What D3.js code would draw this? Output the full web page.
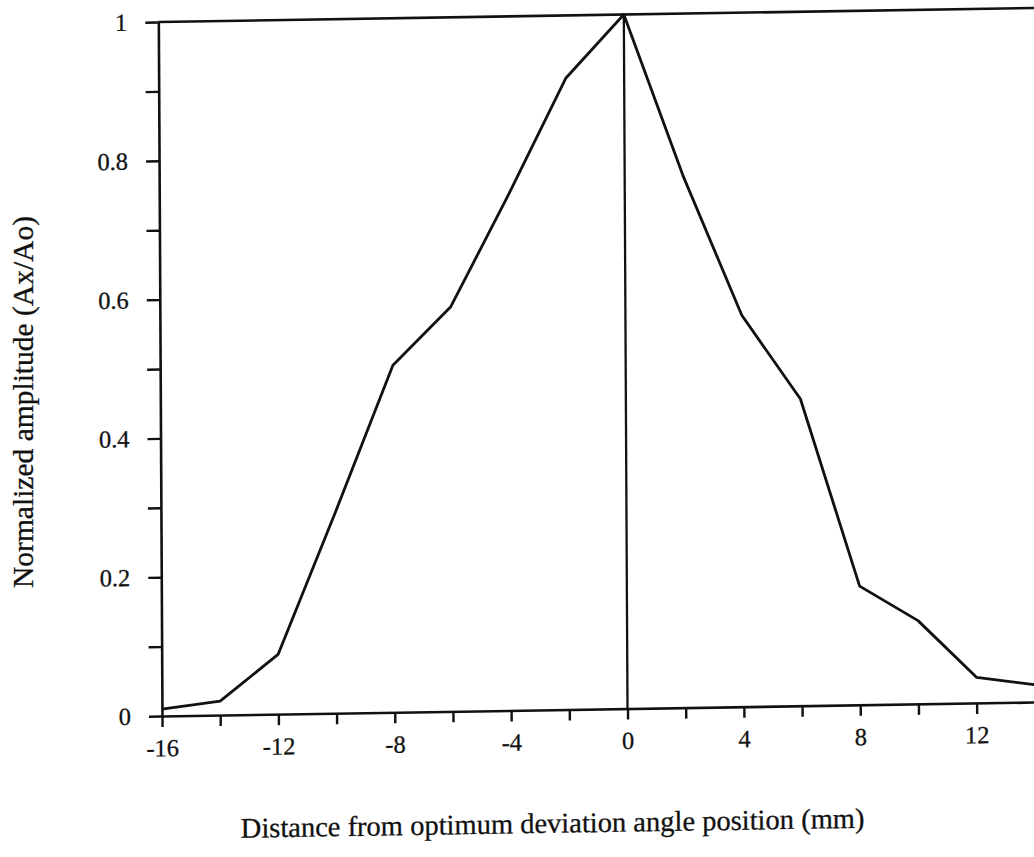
<!DOCTYPE html>
<html>
<head>
<meta charset="utf-8">
<script src="https://cdn.jsdelivr.net/npm/d3@7"></script>
<style>
  body { margin: 0; background: #fff; }
  svg text { font-family: 'Liberation Serif', 'Times New Roman', serif; fill: #111; stroke: #111; stroke-width: 0.3px; }
  .tick text { font-size: 24.5px; }
</style>
</head>
<body>
<div class="canvas"></div>
<script>
// data
const distances = [-16, -14, -12, -10, -8, -6, -4, -2, 0, 2, 4, 6, 8, 10, 12, 14];
const amplitudes = [0.01, 0.02, 0.086, 0.29, 0.50, 0.583, 0.743, 0.91, 1.0, 0.767, 0.564, 0.442, 0.171, 0.12, 0.037, 0.025];

const xTicks = d3.range(-16, 17, 2);
const yTicks = d3.range(0, 11).map(i => i / 10);
const xLabelled = [-16, -12, -8, -4, 0, 4, 8, 12];
const yLabelled = [0, 0.2, 0.4, 0.6, 0.8, 1];

const width = 1034, height = 857;

const svg = d3.select('.canvas')
  .append('svg')
  .attr('width', width)
  .attr('height', height);

// the scan is a little skewed, so the plot group carries the same slant
const graph = svg.append('g')
  .attr('transform', 'translate(162,716) matrix(1,-0.016,0.0053,1,0,0)');

const x = d3.scaleLinear().domain([-16, 16]).range([0, 931]);
const y = d3.scaleLinear().domain([0, 1]).range([0, -694]);

// x axis, ticks pointing down
const xAxis = d3.axisBottom(x)
  .tickValues(xTicks)
  .tickFormat(d => xLabelled.includes(d) ? d : '')
  .tickSize(11)
  .tickSizeOuter(0)
  .tickPadding(12);

const xAxisGroup = graph.append('g').call(xAxis);

// y axis, ticks pointing left
const yAxis = d3.axisLeft(y)
  .tickValues(yTicks)
  .tickFormat(d => yLabelled.some(v => Math.abs(v - d) < 1e-9) ? d3.format('~g')(d) : '')
  .tickSize(13)
  .tickSizeOuter(0)
  .tickPadding(18);

const yAxisGroup = graph.append('g').call(yAxis);

[xAxisGroup, yAxisGroup].forEach(g => {
  g.attr('font-family', null).attr('font-size', null);
  g.select('.domain').attr('stroke', '#111').attr('stroke-width', 2.6);
  g.selectAll('.tick line').attr('stroke', '#111').attr('stroke-width', 2.4);
  g.selectAll('.tick text').attr('fill', '#111');
});

// top frame line and centre line at 0
graph.append('line')
  .attr('x1', x(-16)).attr('x2', x(16))
  .attr('y1', y(1)).attr('y2', y(1))
  .attr('stroke', '#111').attr('stroke-width', 2.6);

graph.append('line')
  .attr('x1', x(0)).attr('x2', x(0))
  .attr('y1', y(0)).attr('y2', y(1))
  .attr('stroke', '#111').attr('stroke-width', 2.3);

// the curve
const line = d3.line()
  .x((d, i) => x(distances[i]))
  .y(d => y(d));

graph.append('path')
  .datum(amplitudes)
  .attr('d', line)
  .attr('fill', 'none')
  .attr('stroke', '#111')
  .attr('stroke-width', 2.8)
  .attr('stroke-linejoin', 'round');

// axis titles
graph.append('text')
  .attr('x', 390)
  .attr('y', 123)
  .attr('text-anchor', 'middle')
  .style('font-size', '28.5px')
  .text('Distance from optimum deviation angle position (mm)');

svg.append('text')
  .attr('transform', 'translate(33,402) rotate(-90)')
  .attr('text-anchor', 'middle')
  .style('font-size', '29.5px')
  .text('Normalized amplitude (Ax/Ao)');
</script>
</body>
</html>
